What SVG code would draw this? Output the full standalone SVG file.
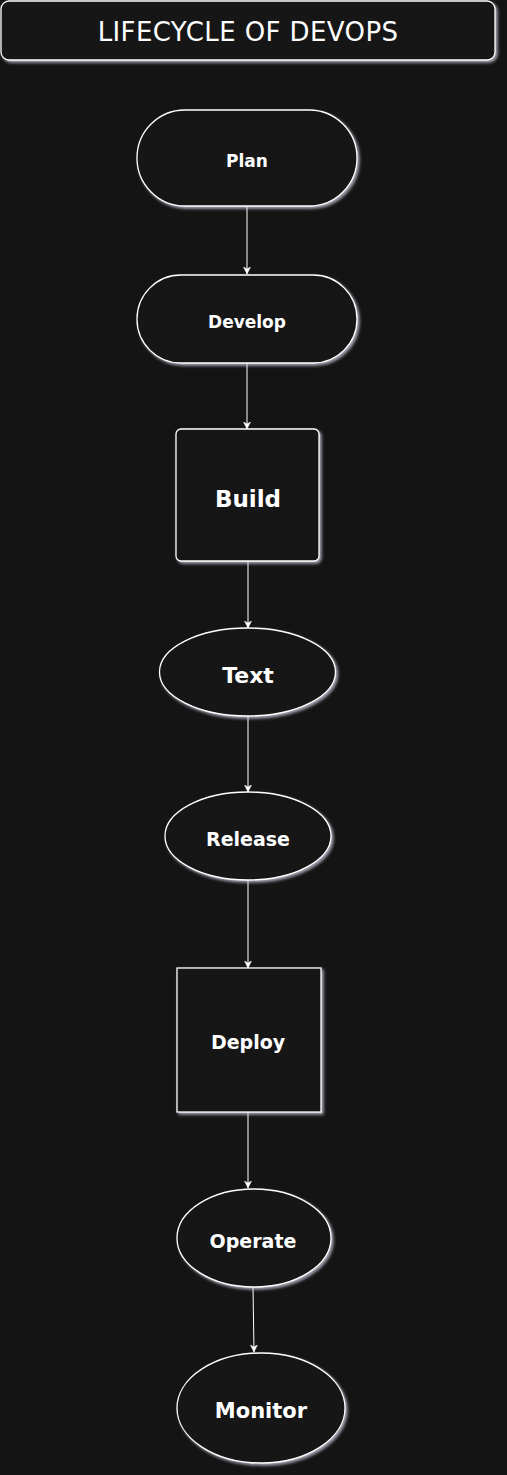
<svg xmlns="http://www.w3.org/2000/svg" width="507" height="1475" viewBox="0 0 507 1475">
<style>
.shape{fill:#141414;stroke:#ffffff;stroke-width:1.3;filter:url(#glow)}
.lbl{fill:#ffffff;font-family:"Comic Sans MS","DejaVu Sans",sans-serif;font-weight:bold;text-anchor:middle;dominant-baseline:central}
.edge{stroke:#ffffff;stroke-width:1;fill:none;marker-end:url(#arr)}
</style>
<defs>
<filter id="glow" x="-10%" y="-10%" width="125%" height="130%">
<feGaussianBlur in="SourceAlpha" stdDeviation="1.8" result="b"/>
<feOffset dx="2" dy="2" in="b" result="o"/>
<feFlood flood-color="#c8c8dc" flood-opacity="0.8"/>
<feComposite in2="o" operator="in" result="s"/>
<feMerge><feMergeNode in="s"/><feMergeNode in="SourceGraphic"/></feMerge>
</filter>
<marker id="arr" markerWidth="8" markerHeight="8" refX="7" refY="4" orient="auto" markerUnits="userSpaceOnUse">
<path d="M0,0.5 L7,4 L0,7.5 L2,4 Z" fill="#ffffff" stroke="#ffffff" stroke-width="0.5"/>
</marker>
</defs>
<rect width="507" height="1475" fill="#141414"/>
<g id="title">
<rect class="shape" x="1" y="1" width="494" height="59" rx="8"/>
<text class="lbl" x="248" y="32" font-size="26" letter-spacing="0.4" style="font-weight:normal">LIFECYCLE OF DEVOPS</text>
</g>
<g id="connectors">
<path class="edge" d="M247,206 L247,274"/>
<path class="edge" d="M247,363 L247,429"/>
<path class="edge" d="M248,561 L248,628"/>
<path class="edge" d="M248,716 L248,792"/>
<path class="edge" d="M248,880 L248,968"/>
<path class="edge" d="M248,1112 L248,1188"/>
<path class="edge" d="M253,1287 L254,1352"/>
</g>
<g id="plan">
<rect class="shape" x="137" y="110" width="220" height="96" rx="48"/>
<text class="lbl" x="247" y="161" font-size="17">Plan</text>
</g>
<g id="develop">
<rect class="shape" x="137" y="275" width="220" height="88" rx="44"/>
<text class="lbl" x="247" y="322" font-size="17">Develop</text>
</g>
<g id="build">
<rect class="shape" x="176" y="429" width="143" height="132" rx="5"/>
<text class="lbl" x="248" y="499" font-size="23">Build</text>
</g>
<g id="text">
<ellipse class="shape" cx="247.5" cy="672" rx="88" ry="44"/>
<text class="lbl" x="248" y="675" font-size="22">Text</text>
</g>
<g id="release">
<ellipse class="shape" cx="248" cy="836" rx="83" ry="44"/>
<text class="lbl" x="248" y="839" font-size="19">Release</text>
</g>
<g id="deploy">
<rect class="shape" x="177" y="968" width="144" height="144"/>
<text class="lbl" x="248" y="1042" font-size="19">Deploy</text>
</g>
<g id="operate">
<ellipse class="shape" cx="254" cy="1238" rx="77" ry="49"/>
<text class="lbl" x="253" y="1241" font-size="19">Operate</text>
</g>
<g id="monitor">
<ellipse class="shape" cx="261" cy="1408" rx="84" ry="55"/>
<text class="lbl" x="261" y="1411" font-size="21">Monitor</text>
</g>
</svg>
